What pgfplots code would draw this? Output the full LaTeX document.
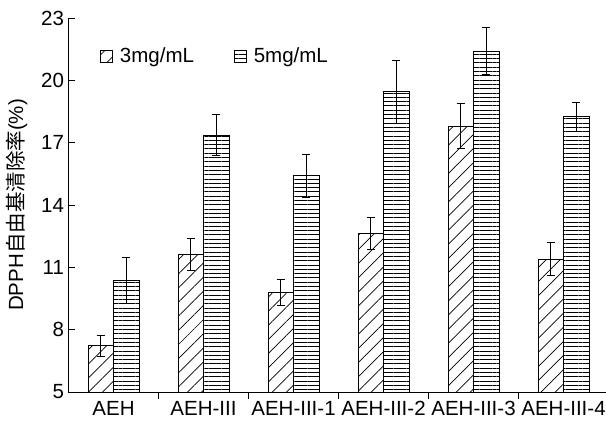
\documentclass[border=0pt]{standalone}
\usepackage{fontspec}
\setmainfont{Liberation Sans}
\newfontfamily\cjk{Noto Sans CJK SC}
\usepackage{pgfplots}
\pgfplotsset{compat=1.18}
\usetikzlibrary{patterns.meta}
\newcommand{\bigfont}{\fontsize{20.5}{24}\selectfont}
\begin{document}
\begin{tikzpicture}
\useasboundingbox (-68.5pt,-32pt) rectangle (537.5pt,392pt);
\begin{axis}[
  at={(0,0)}, anchor=south west,
  scale only axis, width=537.5pt, height=374pt,
  xmin=-0.5, xmax=5.472, ymin=5, ymax=23,
  axis x line*=bottom, axis y line*=left,
  xtick pos=left, ytick pos=left,
  axis line style={-, line width=1pt},
  ytick={5,8,11,14,17,20,23},
  xtick={0.5,1.5,2.5,3.5,4.5},
  xticklabels={},
  extra x ticks={0,1,2,3,4,5},
  extra x tick labels={AEH,AEH-III,AEH-III-1,AEH-III-2,AEH-III-3,AEH-III-4},
  extra x tick style={major tick length=0pt},
  tick align=inside,
  major tick length=7pt,
  tick style={line width=1pt, black},
  /pgf/number format/assume math mode=true,
  tick label style={font=\bigfont},
  yticklabel style={xshift=-1pt},
  xticklabel style={yshift=-6pt},
  ylabel={DPPH{\cjk 自由基清除率}(\%)},
  ylabel style={font=\bigfont, at={(axis description cs:0,0.5)}, yshift=52pt, anchor=center},
  ybar=0pt,
  bar width=25.5pt,
  legend style={at={(0.053,0.898)}, anchor=west, draw=none, fill=none,
    font=\bigfont, legend columns=2,
    /tikz/every odd column/.append style={column sep=5pt},
    /tikz/every even column/.append style={column sep=38pt}},
  legend image code/.code={\draw[#1, line width=0.8pt] (0pt,-6pt) rectangle (12pt,6pt);},
  error bars/y dir=both,
  error bars/y explicit,
  error bars/error bar style={line width=1pt, black},
  error bars/error mark options={rotate=90, mark size=4pt, line width=1pt, black},
]
\addplot[draw=black, line width=1pt,
  pattern={Lines[angle=45, distance=10pt, line width=0.7pt]}]
  coordinates {
  (0,7.23) +- (0,0.50)
  (1,11.62) +- (0,0.75)
  (2,9.79) +- (0,0.64)
  (3,12.63) +- (0,0.76)
  (4,17.80) +- (0,1.07)
  (5,11.39) +- (0,0.80)
  };
\addlegendentry{3mg/mL}
\addplot[draw=black, line width=1pt,
  pattern={Lines[angle=0, distance=4.3pt, line width=0.8pt]}]
  coordinates {
  (0,10.38) +- (0,1.10)
  (1,17.36) +- (0,1.00)
  (2,15.40) +- (0,1.05)
  (3,19.44) +- (0,1.50)
  (4,21.41) +- (0,1.13)
  (5,18.24) +- (0,0.68)
  };
\addlegendentry{5mg/mL}
\end{axis}
\end{tikzpicture}
\end{document}
